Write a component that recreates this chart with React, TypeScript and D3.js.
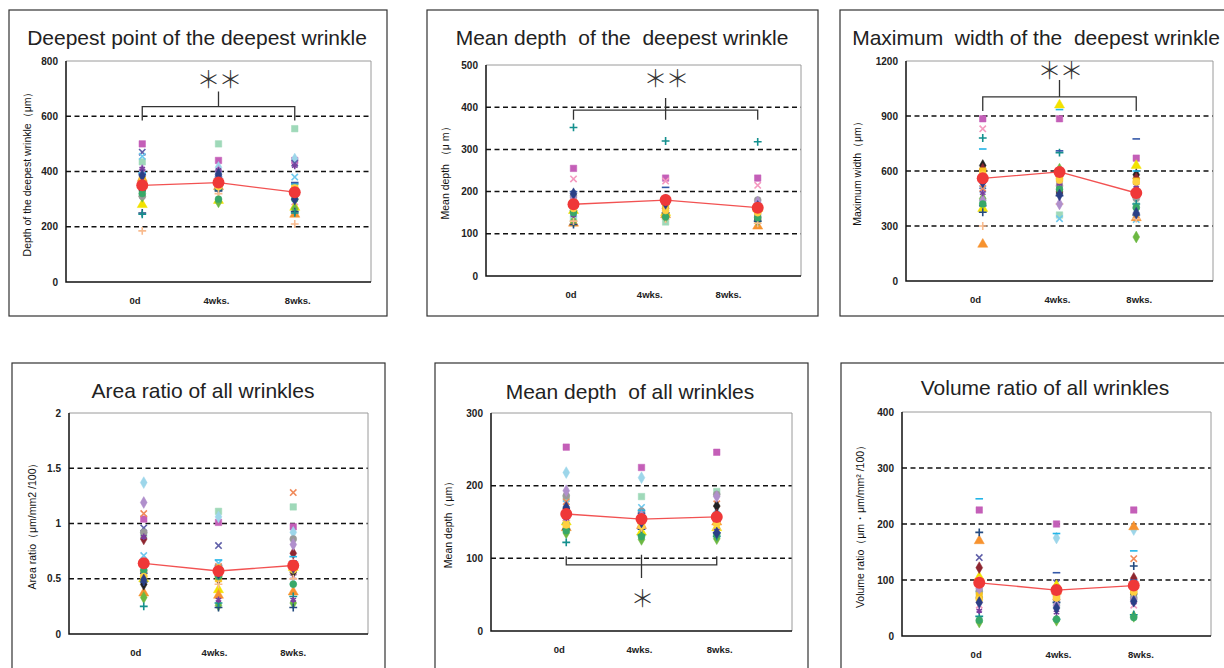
import React, { useRef, useEffect } from "react";
import * as d3 from "d3";

// time points on the x axis
const timePoints = ["0d", "4wks.", "8wks."];

// one marker per subject, like the default Excel series markers
const subjectShapes = [
  "square", "square", "diamond", "x", "x", "x", "x", "triangle",
  "triangle", "diamond", "diamond", "diamond", "circle", "square", "plus", "plus",
  "plus", "dash", "dash", "diamond", "star", "circle", "circle", "diamond",
];
const subjectColors = [
  "#c45fb8", "#9fd9b9", "#9dd6ea", "#5f5fa8", "#6cc8ee", "#f59ac0", "#f08a5a", "#f2e200",
  "#f7922e", "#222222", "#8e2630", "#6cb842", "#9a9a9a", "#f8c21e", "#244a80", "#14908e",
  "#f9bb8e", "#22b5e8", "#3458a8", "#b08fcc", "#7a3f9e", "#38a868", "#ffd040", "#2a3f86",
];

// values per subject: [0d, 4wks., 8wks.]
const deepestPointValues = [
  [500, 440, 440], [435, 500, 555], [395, 415, 445], [470, 395, 430], [455, 385, 380], [365, 350, 290],
  [345, 340, 260], [280, 295, 270], [375, 345, 245], [330, 355, 320], [340, 350, 325], [310, 290, 265],
  [310, 340, 335], [370, 360, 345], [250, 330, 255], [245, 335, 250], [185, 320, 210], [395, 370, 355],
  [390, 380, 360], [405, 400, 310], [410, 405, 420], [320, 300, 300], [360, 345, 340], [385, 390, 300],
];
const deepestPointMeans = [350, 360, 325];

const meanDepthDeepestValues = [
  [255, 232, 232], [135, 128, 145], [140, 170, 150], [180, 175, 160], [150, 165, 150], [230, 225, 215],
  [170, 160, 140], [155, 150, 160], [125, 145, 118], [155, 170, 135], [165, 160, 140], [130, 140, 130],
  [190, 185, 180], [175, 168, 155], [122, 150, 130], [352, 320, 318], [130, 135, 125], [160, 178, 165],
  [200, 210, 170], [185, 180, 175], [145, 155, 145], [150, 140, 138], [160, 155, 150], [195, 172, 165],
];
const meanDepthDeepestMeans = [170, 180, 162];

const maxWidthValues = [
  [885, 885, 670], [430, 360, 410], [540, 560, 500], [520, 530, 470], [500, 340, 335], [830, 545, 380],
  [505, 580, 350], [395, 960, 630], [200, 600, 345], [630, 480, 580], [610, 490, 560], [450, 610, 240],
  [560, 520, 450], [600, 570, 545], [375, 465, 360], [780, 700, 420], [300, 420, 340], [720, 935, 600],
  [410, 710, 775], [440, 420, 480], [480, 530, 520], [420, 500, 400], [580, 550, 540], [540, 470, 370],
];
const maxWidthMeans = [560, 595, 480];

const areaRatioValues = [
  [1.04, 1.01, 0.97], [0.9, 1.11, 1.15], [1.37, 1.06, 0.92], [0.96, 0.8, 0.56], [0.71, 0.64, 0.48], [0.6, 0.55, 0.52],
  [1.09, 0.61, 1.28], [0.5, 0.4, 0.6], [0.37, 0.35, 0.38], [0.45, 0.5, 0.56], [0.86, 0.58, 0.73], [0.33, 0.26, 0.28],
  [0.92, 0.52, 0.86], [0.54, 0.5, 0.62], [0.47, 0.24, 0.24], [0.25, 0.28, 0.34], [0.57, 0.45, 0.5], [0.64, 0.67, 0.7],
  [0.55, 0.62, 0.66], [1.19, 0.57, 0.81], [0.88, 0.31, 0.31], [0.58, 0.52, 0.45], [0.52, 0.6, 0.58], [0.49, 0.55, 0.6],
];
const areaRatioMeans = [0.64, 0.57, 0.62];

const meanDepthAllValues = [
  [253, 225, 246], [183, 185, 192], [218, 211, 163], [165, 160, 150], [175, 170, 160], [160, 150, 145],
  [178, 158, 175], [150, 136, 142], [142, 145, 150], [168, 155, 172], [163, 152, 160], [135, 126, 127],
  [186, 165, 188], [145, 148, 155], [140, 140, 135], [122, 132, 130], [152, 142, 140], [148, 166, 162],
  [158, 162, 152], [193, 158, 185], [155, 146, 138], [138, 130, 132], [146, 144, 147], [170, 150, 135],
];
const meanDepthAllMeans = [161, 154, 157];

const volumeRatioValues = [
  [225, 200, 225], [80, 55, 70], [88, 175, 190], [140, 95, 85], [75, 85, 80], [55, 60, 55],
  [95, 75, 138], [105, 90, 95], [170, 80, 195], [68, 65, 75], [122, 80, 103], [25, 28, 35],
  [80, 72, 68], [72, 70, 82], [185, 60, 125], [35, 30, 38], [100, 65, 90], [245, 183, 152],
  [90, 113, 100], [85, 55, 65], [45, 42, 60], [28, 30, 33], [65, 68, 78], [60, 50, 62],
];
const volumeRatioMeans = [95, 82, 90];

// layout of the six panels: outer box, plot area [left, top, right, bottom]
const panels = [
  {
    title: "Deepest point of the deepest wrinkle", titleX: 197, titleY: 45,
    yTitle: "Depth of the deepest wrinkle（μm）", yTitleOffset: 39,
    box: [9, 10, 387, 316], plot: [66, 61, 371, 282],
    yMax: 800, ticks: [0, 200, 400, 600, 800],
    xDomain: [0, 4], labelDomain: [-0.85, 2.9],
    values: deepestPointValues, means: deepestPointMeans,
    bracket: { level: 635, ends: 585, midFrom: 635, midTo: 690, star: 731, text: "＊＊" },
  },
  {
    title: "Mean depth  of the  deepest wrinkle", titleX: 622, titleY: 45,
    yTitle: "Mean depth （μ m）", yTitleOffset: 41,
    box: [427, 10, 818, 316], plot: [486, 65, 801, 276],
    yMax: 500, ticks: [0, 100, 200, 300, 400, 500],
    xDomain: [0.05, 3.47], labelDomain: [-1.08, 2.92],
    values: meanDepthDeepestValues, means: meanDepthDeepestMeans,
    bracket: { level: 393, ends: 370, midFrom: 370, midTo: 422, star: 467, text: "＊＊" },
  },
  {
    title: "Maximum  width of the  deepest wrinkle", titleX: 1036, titleY: 45,
    yTitle: "Maximum width（μm）", yTitleOffset: 49,
    box: [840, 10, 1230, 316], plot: [906, 61, 1213, 281],
    yMax: 1200, ticks: [0, 300, 600, 900, 1200],
    xDomain: [0, 4], labelDomain: [-0.85, 2.9],
    values: maxWidthValues, means: maxWidthMeans,
    bracket: { level: 1004, ends: 927, midFrom: 1004, midTo: 1096, star: 1150, text: "＊＊" },
  },
  {
    title: "Area ratio of all wrinkles", titleX: 203, titleY: 398,
    yTitle: "Area ratio（μm/mm2 /100）", yTitleOffset: 37,
    box: [12, 363, 385, 672], plot: [69, 413, 368, 634],
    yMax: 2, ticks: [0, 0.5, 1, 1.5, 2],
    xDomain: [0, 4], labelDomain: [-0.85, 2.95],
    values: areaRatioValues, means: areaRatioMeans,
    bracket: null,
  },
  {
    title: "Mean depth  of all wrinkles", titleX: 630, titleY: 399,
    yTitle: "Mean depth（μm）", yTitleOffset: 43,
    box: [435, 363, 808, 672], plot: [491, 413, 792, 631],
    yMax: 300, ticks: [0, 100, 200, 300],
    xDomain: [0, 4], labelDomain: [-0.85, 2.9],
    values: meanDepthAllValues, means: meanDepthAllMeans,
    bracket: { level: 91, ends: 103, midFrom: 105, midTo: 73, star: 44, text: "＊" },
  },
  {
    title: "Volume ratio of all wrinkles", titleX: 1045, titleY: 395,
    yTitle: "Volume ratio（μm・μm/mm² /100）", yTitleOffset: 42,
    box: [841, 363, 1230, 672], plot: [902, 412, 1211, 636],
    yMax: 400, ticks: [0, 100, 200, 300, 400],
    xDomain: [0, 4], labelDomain: [-0.9, 2.85],
    values: volumeRatioValues, means: volumeRatioMeans,
    bracket: null,
  },
];

const FONT = "'Liberation Sans', Arial, sans-serif";

// short horizontal bar marker (Excel "dash")
const symbolDash = {
  draw(ctx: any, size: number) {
    const w = Math.sqrt(size) * 0.6;
    ctx.moveTo(-w, 0);
    ctx.lineTo(w, 0);
  },
};

const markerTypes: any = {
  square: { type: d3.symbolSquare, size: 42, filled: true },
  diamond: { type: d3.symbolDiamond, size: 40, filled: true },
  triangle: { type: d3.symbolTriangle, size: 44, filled: true },
  circle: { type: d3.symbolCircle, size: 38, filled: true },
  x: { type: d3.symbolTimes, size: 28, filled: false },
  plus: { type: d3.symbolPlus, size: 22, filled: false },
  star: { type: d3.symbolAsterisk, size: 28, filled: false },
  dash: { type: symbolDash, size: 40, filled: false },
};

function drawPanel(svg: any, p: any) {
  const [bl, bt, br, bb] = p.box;
  const [pl, pt, pr, pb] = p.plot;
  const g = svg.append("g");

  // outer frame
  g.append("rect")
    .attr("x", bl).attr("y", bt)
    .attr("width", br - bl).attr("height", bb - bt)
    .attr("fill", "white").attr("stroke", "#333").attr("stroke-width", 1.2);

  const x = d3.scaleLinear().domain(p.xDomain).range([pl, pr]);
  const xLabel = d3.scaleLinear().domain(p.labelDomain).range([pl, pr]);
  const y = d3.scaleLinear().domain([0, p.yMax]).range([pb, pt]);

  // dashed gridlines
  g.selectAll(".grid")
    .data(p.ticks.filter((t: number) => t > 0 && t < p.yMax))
    .enter()
    .append("line")
    .attr("x1", pl).attr("x2", pr)
    .attr("y1", (d: number) => y(d)).attr("y2", (d: number) => y(d))
    .attr("stroke", "#111").attr("stroke-width", 1.5)
    .attr("stroke-dasharray", "5,3.5");

  // plot frame: grey top/right, black left/bottom
  g.append("path")
    .attr("d", `M${pl},${pt}H${pr}V${pb}`)
    .attr("fill", "none").attr("stroke", "#9a9a9a").attr("stroke-width", 1);
  g.append("path")
    .attr("d", `M${pl},${pt}V${pb}H${pr}`)
    .attr("fill", "none").attr("stroke", "#111").attr("stroke-width", 1.5);

  // y tick labels
  g.selectAll(".tick")
    .data(p.ticks)
    .enter()
    .append("text")
    .attr("x", pl - 8)
    .attr("y", (d: number) => y(d))
    .attr("dy", "0.35em")
    .attr("text-anchor", "end")
    .attr("font-family", FONT).attr("font-size", 10).attr("font-weight", "bold")
    .attr("fill", "#222")
    .text((d: number) => String(d));

  // x labels
  g.selectAll(".xlab")
    .data(timePoints)
    .enter()
    .append("text")
    .attr("x", (d: string, i: number) => xLabel(i))
    .attr("y", pb + 19)
    .attr("dy", "0.35em")
    .attr("text-anchor", "middle")
    .attr("font-family", FONT).attr("font-size", 9.5).attr("font-weight", "bold")
    .attr("fill", "#222")
    .text((d: string) => d);

  // y axis title
  const cy = (pt + pb) / 2;
  const cx = pl - p.yTitleOffset;
  g.append("text")
    .attr("transform", `translate(${cx},${cy}) rotate(-90)`)
    .attr("text-anchor", "middle")
    .attr("dy", "0.35em")
    .attr("font-family", FONT).attr("font-size", 10.5)
    .attr("fill", "#111")
    .text(p.yTitle);

  // panel title
  g.append("text")
    .attr("x", p.titleX).attr("y", p.titleY)
    .attr("text-anchor", "middle")
    .attr("font-family", FONT).attr("font-size", 21)
    .attr("fill", "#222")
    .style("white-space", "pre")
    .text(p.title);

  // individual subjects
  p.values.forEach((vals: number[], s: number) => {
    const m = markerTypes[subjectShapes[s]];
    const path = d3.symbol().type(m.type).size(m.size)();
    const color = subjectColors[s];
    g.selectAll(null)
      .data(vals)
      .enter()
      .append("path")
      .attr("d", path)
      .attr("transform", (d: number, i: number) => `translate(${x(i + 1)},${y(d)})`)
      .attr("fill", m.filled ? color : "none")
      .attr("stroke", color)
      .attr("stroke-width", m.filled ? 0.5 : 1.6);
  });

  // mean line and mean dots
  const line = d3.line<number>()
    .x((d, i) => x(i + 1))
    .y((d) => y(d));
  g.append("path")
    .attr("d", line(p.means))
    .attr("fill", "none").attr("stroke", "#f25252").attr("stroke-width", 1.3);
  g.selectAll(".mean")
    .data(p.means)
    .enter()
    .append("circle")
    .attr("cx", (d: number, i: number) => x(i + 1))
    .attr("cy", (d: number) => y(d))
    .attr("r", 6)
    .attr("fill", "#ef3838");

  // significance bracket
  if (p.bracket) {
    const b = p.bracket;
    const x0 = x(1), x1 = x(3), xm = (x0 + x1) / 2;
    g.append("path")
      .attr("d", `M${x0},${y(b.ends)}V${y(b.level)}H${x1}V${y(b.ends)}M${xm},${y(b.midFrom)}V${y(b.midTo)}`)
      .attr("fill", "none").attr("stroke", "#333").attr("stroke-width", 1.3);
    g.append("text")
      .attr("x", xm).attr("y", y(b.star))
      .attr("dy", "0.35em")
      .attr("text-anchor", "middle")
      .attr("font-family", "'Noto Sans CJK JP', sans-serif")
      .attr("font-size", 24).attr("font-weight", 300)
      .attr("letter-spacing", -2)
      .attr("fill", "#333")
      .text(b.text);
  }
}

function WrinkleCharts() {
  const ref = useRef<SVGSVGElement>(null);

  useEffect(() => {
    const svg = d3.select(ref.current);
    svg.selectAll("*").remove();
    svg.append("rect").attr("width", 1224).attr("height", 668).attr("fill", "white");
    panels.forEach((p) => drawPanel(svg, p));
  }, []);

  return <svg ref={ref} width={1224} height={668} style={{ display: "block" }} />;
}

export default function App() {
  return (
    <div style={{ position: "absolute", left: 0, top: 0, width: 1224, height: 668, overflow: "hidden" }}>
      <WrinkleCharts />
    </div>
  );
}
